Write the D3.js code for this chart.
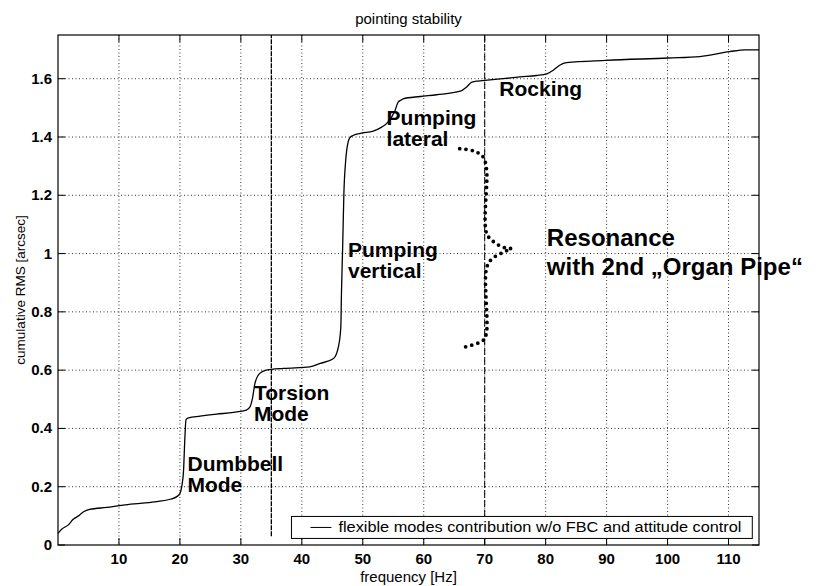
<!DOCTYPE html>
<html>
<head>
<meta charset="utf-8">
<script src="https://cdn.jsdelivr.net/npm/d3@7"></script>
<style>
    body { margin: 0; background: #fff; }
    #data-viz { width: 816px; height: 586px; }
    text { font-family: "Liberation Sans", Arial, Helvetica, sans-serif; fill: #000; }
</style>
</head>
<body>
<div id="data-viz"></div>
<script>
// cumulative RMS curve
const frequency = [0, 0.6, 1.7, 2.5, 3.3, 4.2, 5.2, 8, 10.7, 13.5,
    16.2, 18.4, 19.5, 20, 20.3, 20.6, 20.8, 21, 21.4, 23.3,
    26, 28.8, 30.9, 31.5, 31.9, 32.3, 33.1, 34.2, 37, 41.3,
    43, 45.2, 46, 46.4, 46.5, 46.7, 46.9, 47.2, 47.6, 47.9,
    48.4, 49.8, 51.7, 53.1, 53.9, 55.3, 55.8, 56.4, 56.6, 59.4,
    62.1, 66, 67, 67.9, 68.9, 70, 73, 75.8, 78.5, 80.2,
    81.3, 82.3, 83.4, 90, 100.1, 105.3, 110.2, 112.7, 115]
const cumulativeRMS = [0.04, 0.054, 0.069, 0.088, 0.099, 0.114, 0.122, 0.129, 0.137, 0.143,
    0.149, 0.157, 0.166, 0.177, 0.2, 0.257, 0.36, 0.43, 0.436, 0.442,
    0.449, 0.455, 0.463, 0.474, 0.503, 0.554, 0.589, 0.6, 0.606, 0.611,
    0.623, 0.64, 0.68, 0.748, 0.863, 1.023, 1.206, 1.32, 1.383, 1.398,
    1.405, 1.413, 1.42, 1.434, 1.446, 1.491, 1.52, 1.528, 1.531, 1.539,
    1.545, 1.557, 1.571, 1.588, 1.592, 1.594, 1.6, 1.606, 1.611, 1.617,
    1.63, 1.646, 1.655, 1.663, 1.671, 1.676, 1.693, 1.699, 1.699]

const xTicks = [10, 20, 30, 40, 50, 60, 70, 80, 90, 100, 110]
const yTicks = [0, 0.2, 0.4, 0.6, 0.8, 1, 1.2, 1.4, 1.6]
const yTickLabels = ["0", "0.2", "0.4", "0.6", "0.8", "1", "1.2", "1.4", "1.6"]

// vertical marker lines [frequency, from rms, to rms]
const torsionLine = [35, 0.03, 1.75]
const organPipeLine = [70, 0, 1.75]

// the dotted brace, two halves meeting at the tip
const braceUpper = [[65.9, 1.36], [68.2, 1.352], [69.7, 1.333], [70.3, 1.29], [70.3, 1.07],
    [71.5, 1.04], [73.3, 1.02], [75.2, 1.017]]
const braceLower = [[73.6, 1.01], [71.2, 0.982], [70.3, 0.95], [70.3, 0.73], [69.8, 0.703], [66.5, 0.678]]

// annotations: lines, anchor frequency, anchor rms (baseline of first line)
const annotationLines = [["Dumbbell", "Mode"], ["Torsion", "Mode"], ["Pumping", "vertical"],
    ["Pumping", "lateral"], ["Rocking"], ["Resonance", "with 2nd \u201EOrgan Pipe\u201C"]]
const annotationFreq = [21.24, 32.15, 47.57, 53.9, 72.4, 80.2]
const annotationRMS = [0.255, 0.497, 0.989, 1.441, 1.541, 1.026]

const legendLabel = "flexible modes contribution w/o FBC and attitude control"

function drawChart() {
    const dimensions = {
        width: 816,
        height: 586,
        margin: { top: 35, right: 57, bottom: 41, left: 58 }
    }
    dimensions.boundedWidth = dimensions.width - dimensions.margin.left - dimensions.margin.right
    dimensions.boundedHeight = dimensions.height - dimensions.margin.top - dimensions.margin.bottom

    const wrapper = d3.select("#data-viz")
        .append("svg")
        .attr("width", dimensions.width)
        .attr("height", dimensions.height)

    const chart = wrapper.append("g")
        .attr("transform", `translate(${dimensions.margin.left}, ${dimensions.margin.top})`)

    const xScale = d3.scaleLinear()
        .domain([0, 115])
        .range([0, dimensions.boundedWidth])
    const yScale = d3.scaleLinear()
        .domain([0, 1.75])
        .range([dimensions.boundedHeight, 0])

    // grid
    chart.append("g").selectAll("line")
        .data(xTicks).join("line")
        .attr("x1", d => xScale(d)).attr("x2", d => xScale(d))
        .attr("y1", 0).attr("y2", dimensions.boundedHeight)
        .attr("stroke", "#000").attr("stroke-width", 0.8)
        .attr("stroke-dasharray", "1 2.5")
    chart.append("g").selectAll("line")
        .data(yTicks.slice(1)).join("line")
        .attr("x1", 0).attr("x2", dimensions.boundedWidth)
        .attr("y1", d => yScale(d)).attr("y2", d => yScale(d))
        .attr("stroke", "#000").attr("stroke-width", 0.8)
        .attr("stroke-dasharray", "1 2.5")

    // inward ticks on all four sides
    const tickLength = 7
    const tickStyle = sel => sel.attr("stroke", "#000").attr("stroke-width", 1)
    chart.append("g").selectAll("line").data(xTicks).join("line")
        .attr("x1", d => xScale(d)).attr("x2", d => xScale(d))
        .attr("y1", dimensions.boundedHeight).attr("y2", dimensions.boundedHeight - tickLength)
        .call(tickStyle)
    chart.append("g").selectAll("line").data(xTicks).join("line")
        .attr("x1", d => xScale(d)).attr("x2", d => xScale(d))
        .attr("y1", 0).attr("y2", tickLength)
        .call(tickStyle)
    chart.append("g").selectAll("line").data(yTicks).join("line")
        .attr("x1", 0).attr("x2", tickLength)
        .attr("y1", d => yScale(d)).attr("y2", d => yScale(d))
        .call(tickStyle)
    chart.append("g").selectAll("line").data(yTicks).join("line")
        .attr("x1", dimensions.boundedWidth).attr("x2", dimensions.boundedWidth - tickLength)
        .attr("y1", d => yScale(d)).attr("y2", d => yScale(d))
        .call(tickStyle)

    // tick labels
    chart.append("g").selectAll("text").data(xTicks).join("text")
        .attr("x", d => xScale(d))
        .attr("y", dimensions.boundedHeight + 19)
        .attr("text-anchor", "middle")
        .style("font-size", "15px").style("font-weight", "bold")
        .text(d => d)
    chart.append("g").selectAll("text").data(yTicks).join("text")
        .attr("x", -6)
        .attr("y", d => yScale(d) + 5)
        .attr("text-anchor", "end")
        .style("font-size", "15px").style("font-weight", "bold")
        .text((d, i) => yTickLabels[i])

    // marker lines
    chart.append("line")
        .attr("x1", xScale(torsionLine[0])).attr("x2", xScale(torsionLine[0]))
        .attr("y1", yScale(torsionLine[1])).attr("y2", yScale(torsionLine[2]))
        .attr("stroke", "#000").attr("stroke-width", 1.3)
        .attr("stroke-dasharray", "5 1")
    chart.append("line")
        .attr("x1", xScale(organPipeLine[0])).attr("x2", xScale(organPipeLine[0]))
        .attr("y1", yScale(organPipeLine[1])).attr("y2", yScale(organPipeLine[2]))
        .attr("stroke", "#000").attr("stroke-width", 1)
        .attr("stroke-dasharray", "7 2.5")

    // main curve
    const dataset = frequency.map((f, i) => ({ f: f, rms: cumulativeRMS[i] }))
    const lineGenerator = d3.line()
        .x(d => xScale(d.f))
        .y(d => yScale(d.rms))
        .curve(d3.curveMonotoneX)
    chart.append("path")
        .datum(dataset)
        .attr("d", lineGenerator)
        .attr("fill", "none")
        .attr("stroke", "#000")
        .attr("stroke-width", 1.3)

    // dotted brace
    const braceGenerator = d3.line()
        .x(d => xScale(d[0]))
        .y(d => yScale(d[1]))
        .curve(d3.curveCatmullRom)
    chart.selectAll(".brace")
        .data([braceUpper, braceLower]).join("path")
        .attr("class", "brace")
        .attr("d", braceGenerator)
        .attr("fill", "none")
        .attr("stroke", "#000")
        .attr("stroke-width", 3.8)
        .attr("stroke-linecap", "round")
        .attr("stroke-dasharray", "0 6.3")

    // annotations
    annotationLines.forEach(function (lines, i) {
        const big = i === annotationLines.length - 1
        const t = chart.append("text")
            .attr("x", xScale(annotationFreq[i]))
            .attr("y", yScale(annotationRMS[i]))
            .style("font-size", big ? "24px" : "21px")
            .style("font-weight", "bold")
        lines.forEach(function (line, j) {
            t.append("tspan")
                .attr("x", xScale(annotationFreq[i]))
                .attr("dy", j === 0 ? 0 : (big ? 29 : 21))
                .text(line)
        })
    })

    // legend
    const legend = chart.append("g")
        .attr("transform", `translate(${xScale(38.3)}, ${yScale(0.098)})`)
    legend.append("rect")
        .attr("width", xScale(113.9) - xScale(38.3))
        .attr("height", 22)
        .attr("fill", "#fff")
        .attr("stroke", "#000")
        .attr("stroke-width", 1)
    legend.append("line")
        .attr("x1", 19).attr("x2", 40)
        .attr("y1", 11).attr("y2", 11)
        .attr("stroke", "#000").attr("stroke-width", 1)
    legend.append("text")
        .attr("x", 47).attr("y", 16)
        .attr("textLength", 403)
        .attr("lengthAdjust", "spacingAndGlyphs")
        .style("font-size", "14px")
        .text(legendLabel)

    // axes box
    chart.append("rect")
        .attr("width", dimensions.boundedWidth)
        .attr("height", dimensions.boundedHeight)
        .attr("fill", "none")
        .attr("stroke", "#000")
        .attr("stroke-width", 1.2)

    // titles
    wrapper.append("text")
        .attr("x", dimensions.margin.left + dimensions.boundedWidth / 2)
        .attr("y", 24)
        .attr("text-anchor", "middle")
        .style("font-size", "15px")
        .text("pointing stability")
    wrapper.append("text")
        .attr("x", dimensions.margin.left + dimensions.boundedWidth / 2)
        .attr("y", dimensions.height - 4)
        .attr("text-anchor", "middle")
        .style("font-size", "15px")
        .text("frequency [Hz]")
    wrapper.append("text")
        .attr("transform", `translate(25, ${dimensions.margin.top + dimensions.boundedHeight / 2}) rotate(-90)`)
        .attr("text-anchor", "middle")
        .style("font-size", "13.5px")
        .text("cumulative RMS [arcsec]")
}

drawChart()
</script>
</body>
</html>
